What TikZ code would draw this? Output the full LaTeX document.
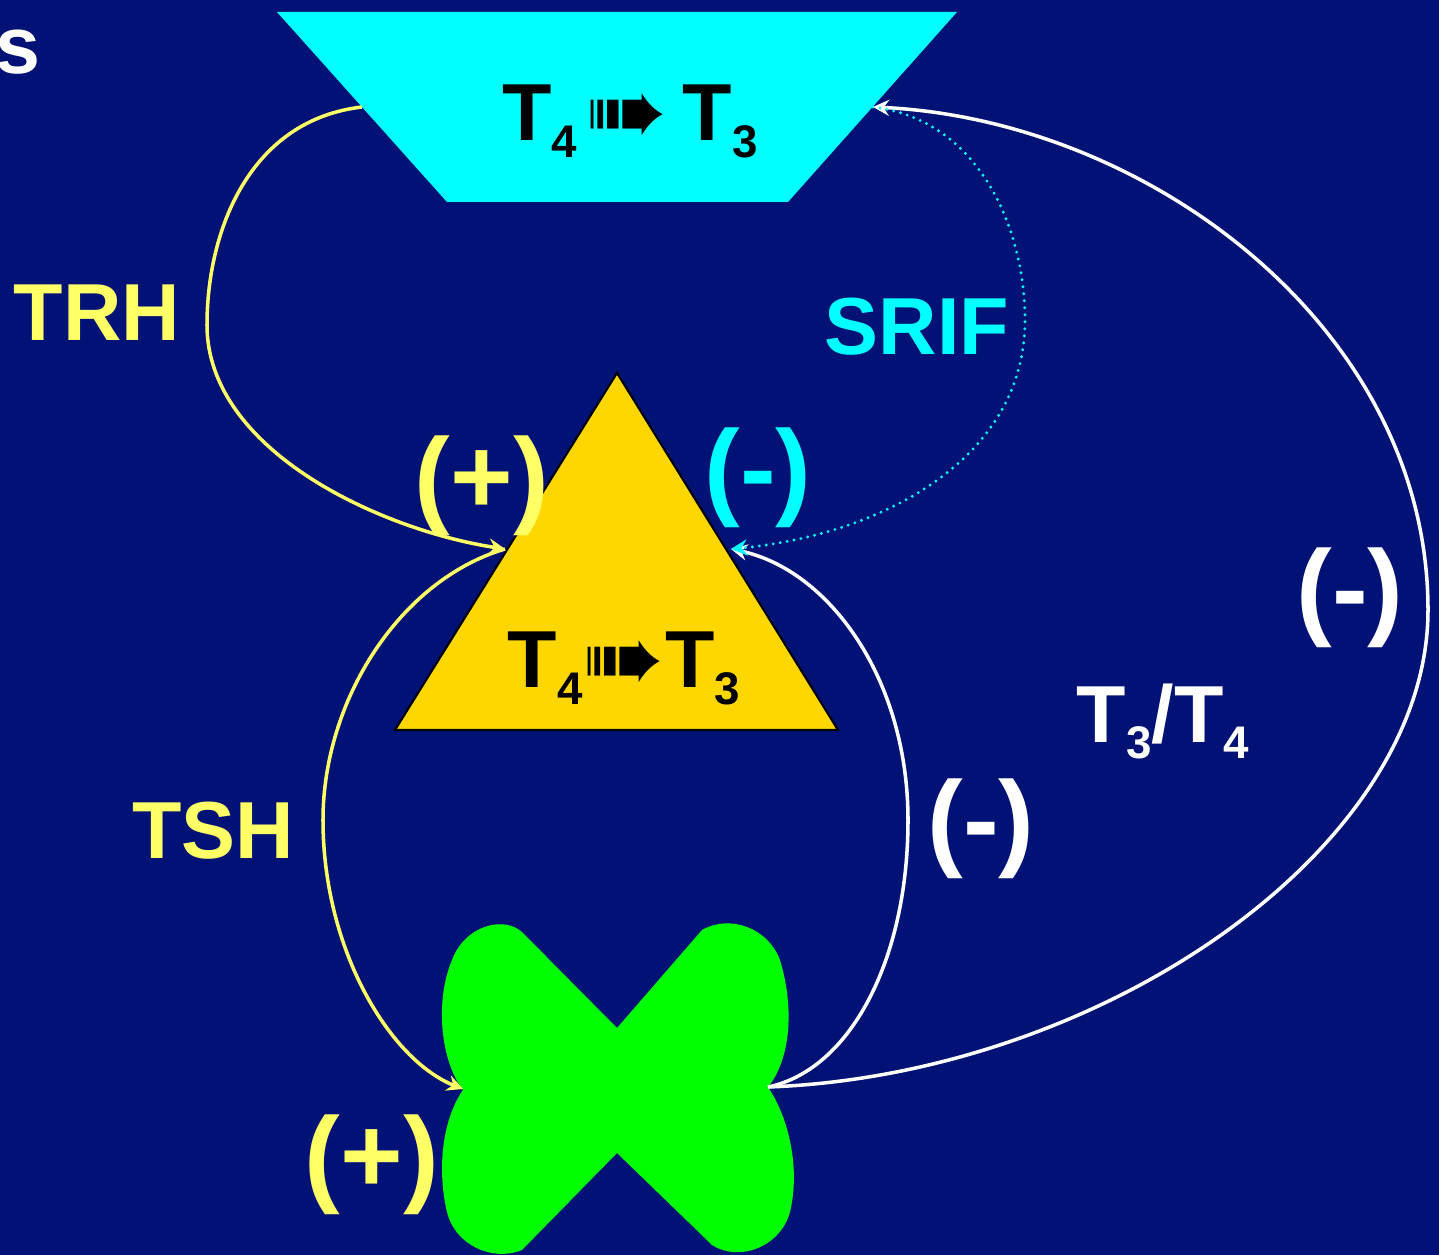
\documentclass[tikz,border=0pt]{standalone}
\usepackage{fontspec}
\setmainfont{Liberation Sans}
\newfontfamily\symfont{DejaVu Sans}
\usetikzlibrary{arrows.meta}

\definecolor{slidebg}{RGB}{0,18,118}
\definecolor{hormyellow}{RGB}{255,255,102}
\definecolor{pitcyan}{RGB}{0,255,255}
\definecolor{hypgold}{RGB}{255,215,0}
\definecolor{thygreen}{RGB}{0,255,0}

\newcommand{\sub}[1]{\raisebox{-4.6pt}{\fontsize{13}{13}\selectfont #1}}
\newcommand{\conv}{\raisebox{-1.4pt}{\symfont\fontsize{28}{28}\selectfont ➠}}

\tikzset{
  lbl/.style={font=\bfseries\fontsize{23}{27}\selectfont, inner sep=0pt, anchor=base},
  sign/.style={font=\bfseries\fontsize{30.5}{34}\selectfont, inner sep=0pt, anchor=base},
  hormone/.style={line width=1pt, -{Stealth[length=4.6pt,width=4.6pt,inset=1.6pt]}},
}

\begin{document}
\begin{tikzpicture}[x=0.01cm, y=-0.01cm]
\useasboundingbox (0,0) rectangle (1439,1255);
\fill[slidebg] (0,0) rectangle (1439,1255);

% glands
\fill[pitcyan] (277,12) -- (957,12) -- (788,202) -- (447,202) -- cycle;
\filldraw[fill=hypgold, draw=black, line width=0.6pt] (617,373) -- (838,730) -- (395,730) -- cycle;
\fill[thygreen] (617,1028) -- (702,930)
  .. controls (730,914) and (768,928) .. (780,960)
  .. controls (795,1010) and (790,1060) .. (768,1087)
  .. controls (790,1120) and (800,1170) .. (790,1212)
  .. controls (780,1248) and (738,1262) .. (712,1245)
  -- (617,1153) -- (522,1250)
  .. controls (492,1262) and (455,1245) .. (447,1212)
  .. controls (437,1170) and (442,1120) .. (463,1090)
  .. controls (440,1060) and (435,1000) .. (452,960)
  .. controls (465,925) and (505,915) .. (523,933) -- cycle;

% connector ends
\coordinate (pitL) at (362,107);
\coordinate (pitR) at (873,107);
\coordinate (hypL) at (505,549);
\coordinate (hypR) at (731,549);
\coordinate (thyL) at (463,1089);
\coordinate (thyR) at (768,1087);

% texts
\node (pitdeiod) [lbl, black] at (630,141) {T\sub{4}\hspace{2.3pt}\conv\hspace{4.3pt}T\sub{3}};
\node (hypdeiod) [lbl, black] at (624,688) {T\sub{4}\conv{}T\sub{3}};
\node (titletail) [lbl, white, anchor=base east] at (41,74) {s};
\node (trh) [lbl, hormyellow] at (97,341) {TRH};
\node (srif) [lbl, pitcyan] at (917,355) {SRIF};
\node (tsh) [lbl, hormyellow] at (213,858) {TSH};
\node (thyhorm) [lbl, white, anchor=base west] at (1076,742) {T\sub{3}/T\sub{4}};
\node (trhplus) [sign, hormyellow] at (482,514) {(+)};
\node (srifminus) [sign, pitcyan] at (758,505) {(-)};
\node (longminus) [sign, white] at (1350,626) {(-)};
\node (shortminus) [sign, white] at (981,856) {(-)};
\node (tshplus) [sign, hormyellow] at (372,1192) {(+)};

% connectors
\draw[hormone, hormyellow] (pitL) .. controls (250,120) and (207,230) .. (207,325)
  .. controls (207,450) and (380,530) .. (hypL);
\draw[hormone, hormyellow] (hypL) .. controls (400,580) and (323,700) .. (323,820)
  .. controls (323,950) and (390,1060) .. (thyL);
\draw[hormone, white] (thyR) .. controls (850,1070) and (908,960) .. (908,820)
  .. controls (908,680) and (830,570) .. (hypR);
\draw[hormone, white] (thyR) .. controls (1100,1075) and (1428,850) .. (1428,610)
  .. controls (1428,330) and (1150,120) .. (pitR);
\draw[hormone, pitcyan, line width=0.9pt, line cap=round, dash pattern=on 0pt off 2pt]
  (pitR) .. controls (980,120) and (1025,230) .. (1025,320)
  .. controls (1025,460) and (880,535) .. (hypR);
\end{tikzpicture}
\end{document}
